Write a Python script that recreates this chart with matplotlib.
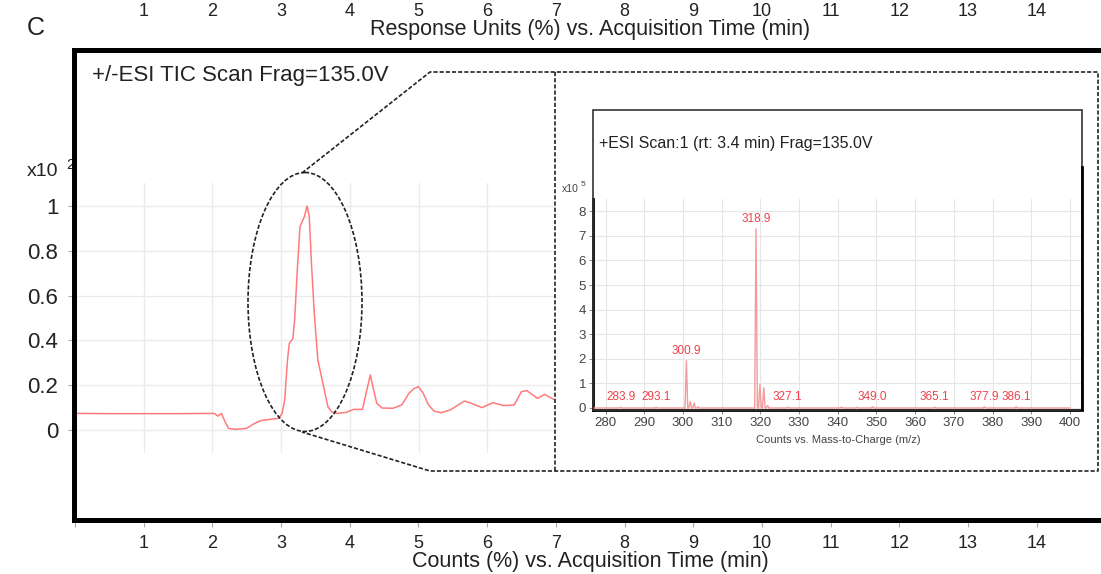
import numpy as np
import matplotlib
matplotlib.use("Agg")
import matplotlib.pyplot as plt
from matplotlib.patches import Ellipse, Rectangle

# ---------------- data ----------------
tic_time = [0.0, 0.5, 1.0, 1.5, 2.028, 2.079, 2.131, 2.183, 2.235, 2.339, 2.495, 2.599,
            2.703, 2.859, 2.963, 3.015, 3.052, 3.093, 3.119, 3.171, 3.197, 3.233, 3.275,
            3.338, 3.379, 3.410, 3.442, 3.483, 3.535, 3.587, 3.639, 3.681, 3.733, 3.821,
            3.951, 4.055, 4.185, 4.237, 4.299, 4.341, 4.393, 4.471, 4.627, 4.757, 4.861,
            4.939, 5.001, 5.069, 5.146, 5.224, 5.329, 5.459, 5.667, 5.744, 5.926, 6.082,
            6.238, 6.394, 6.498, 6.576, 6.732, 6.836, 6.966]
tic_resp = [0.074, 0.073, 0.073, 0.073, 0.074, 0.062, 0.074, 0.037, 0.007, 0.003, 0.007, 0.027,
            0.042, 0.048, 0.052, 0.074, 0.134, 0.313, 0.387, 0.408, 0.491, 0.699, 0.908,
            0.952, 1.000, 0.952, 0.744, 0.521, 0.313, 0.238, 0.164, 0.104, 0.082, 0.074,
            0.079, 0.092, 0.092, 0.164, 0.246, 0.186, 0.119, 0.098, 0.097, 0.112, 0.164,
            0.186, 0.193, 0.164, 0.112, 0.085, 0.077, 0.089, 0.129, 0.122, 0.100, 0.122,
            0.109, 0.112, 0.171, 0.176, 0.141, 0.159, 0.137]

time_ticks = list(range(0, 15))
time_tick_labels = [""] + [str(i) for i in range(1, 15)]
resp_ticks = [0, 0.2, 0.4, 0.6, 0.8, 1.0]
resp_tick_labels = ["0", "0.2", "0.4", "0.6", "0.8", "1"]

mz_peaks = [283.9, 293.1, 300.9, 301.9, 302.9, 303.9, 318.9, 319.9, 320.9, 321.9,
            327.1, 341.0, 344.9, 349.0, 365.1, 377.9, 386.1]
mz_counts = [0.03, 0.03, 1.92, 0.27, 0.20, 0.05, 7.28, 0.95, 0.82, 0.10,
             0.03, 0.04, 0.03, 0.05, 0.03, 0.05, 0.05]
labeled_mz = [283.9, 293.1, 300.9, 318.9, 327.1, 349.0, 365.1, 377.9, 386.1]
mz_ticks = list(range(280, 401, 10))
count_ticks = list(range(0, 9))

# ---------------- layout helpers ----------------
W, H = 1101, 574
fig = plt.figure(figsize=(W / 100, H / 100), dpi=100)
plt.rcParams["font.family"] = ["Liberation Sans", "DejaVu Sans"]


def rect(x0, y0, x1, y1):
    return [x0 / W, 1 - y1 / H, (x1 - x0) / W, (y1 - y0) / H]


PX_MIN = 68.7   # pixels per minute
T0 = 75.0       # pixel of t = 0


def tlim(a, b):
    return ((a - T0) / PX_MIN, (b - T0) / PX_MIN)


TXT = "#222222"
GRAYTXT = "#444444"

# ---------------- TIC chromatogram (drawn first, transparent) ----------------
Y0, PX_RESP = 430.0, 224.0
ax_t = fig.add_axes(rect(75, 183, 555, 453))
ax_t.patch.set_alpha(0)
ax_t.set_xlim(*tlim(75, 555))
ax_t.set_ylim((Y0 - 453) / PX_RESP, (Y0 - 183) / PX_RESP)
for s in ax_t.spines.values():
    s.set_visible(False)
ax_t.set_xticks([1, 2, 3, 4, 5, 6])
ax_t.tick_params(axis="x", length=0, labelbottom=False)
ax_t.set_yticks(resp_ticks, labels=resp_tick_labels)
ax_t.tick_params(axis="y", length=5, width=0.8, color="#aaaaaa", pad=7,
                 labelsize=16, labelcolor=TXT)
ax_t.grid(True, color="#ebebeb", linewidth=1.0)
ax_t.set_axisbelow(True)
ax_t.plot(tic_time, tic_resp, color="#ff7b7b", linewidth=1.1, zorder=3)

# ---------------- outer frame ----------------
ax_o = fig.add_axes(rect(73.5, 49.5, 1125, 519.5), zorder=5)
ax_o.patch.set_alpha(0)
ax_o.set_xlim(*tlim(73.5, 1125))
ax_o.set_ylim(0, 1)
ax_o.set_yticks([])
for s in ["left", "top", "bottom"]:
    ax_o.spines[s].set_linewidth(3.6)
    ax_o.spines[s].set_color("black")
ax_o.spines["right"].set_visible(False)
ax_o.set_xticks(time_ticks, labels=time_tick_labels)
ax_o.tick_params(axis="x", length=5, width=0.8, color="#aaaaaa", pad=6,
                 labelsize=13, labelcolor=TXT)
sec = ax_o.secondary_xaxis("top")
sec.set_xticks(time_ticks, labels=time_tick_labels)
sec.tick_params(axis="x", length=0, pad=21, labelsize=13, labelcolor=TXT)
sec.spines["top"].set_visible(False)

fig.text(590 / W, 1 - 29 / H, "Response Units (%) vs. Acquisition Time (min)",
         ha="center", va="center", fontsize=15.5, color=TXT)
fig.text(590 / W, 1 - 561 / H, "Counts (%) vs. Acquisition Time (min)",
         ha="center", va="center", fontsize=15.5, color=TXT)
fig.text(36 / W, 1 - 28 / H, "C", ha="center", va="center", fontsize=18, color=TXT)

fig.text(27 / W, 1 - 171 / H, "x10", ha="left", va="center", fontsize=14, color=TXT)
fig.text(66 / W, 1 - 165 / H, "2", ha="left", va="center", fontsize=11, color=TXT)
fig.text(92 / W, 1 - 75 / H, "+/-ESI TIC Scan Frag=135.0V", ha="left", va="center",
         fontsize=16, color=TXT)

# ---------------- spectrum inset ----------------
MZ0, PX_MZ = 605.5, 3.87
CY0, PX_CNT = 408.0, 24.6
ax_s = fig.add_axes(rect(593, 199, 1082, 410))
ax_s.set_xlim(280 + (593 - MZ0) / PX_MZ, 280 + (1082 - MZ0) / PX_MZ)
ax_s.set_ylim((CY0 - 410) / PX_CNT, (CY0 - 199) / PX_CNT)
for s in ["top", "right"]:
    ax_s.spines[s].set_visible(False)
for s in ["left", "bottom"]:
    ax_s.spines[s].set_linewidth(2.0)
    ax_s.spines[s].set_color("black")
ax_s.set_xticks(mz_ticks)
ax_s.set_yticks(count_ticks)
ax_s.tick_params(length=3, width=0.7, color="#888888", pad=2, labelsize=9.5,
                 labelcolor=GRAYTXT)
ax_s.grid(True, color="#e6e6e6", linewidth=0.8)
ax_s.set_axisbelow(True)

# profile spectrum built from the peak list
prof_x, prof_y = [277.0], [0.0]
for m, c in sorted(zip(mz_peaks, mz_counts)):
    prof_x += [m - 0.35, m, m + 0.35]
    prof_y += [0.0, c, 0.0]
prof_x.append(400.0)
prof_y.append(0.0)
ax_s.plot(prof_x, prof_y, color="#f59a9a", linewidth=1.0, zorder=3)

for m in labeled_mz:
    c = mz_counts[mz_peaks.index(m)]
    ax_s.annotate(f"{m:.1f}", (m, c), xytext=(0, 3), textcoords="offset points",
                  ha="center", va="bottom", fontsize=8.5, color="#f0404a")

fig.text(838 / W, 1 - 440 / H, "Counts vs. Mass-to-Charge (m/z)", ha="center",
         va="center", fontsize=8, color=GRAYTXT)
fig.text(599 / W, 1 - 143 / H, "+ESI Scan:1 (rt: 3.4 min) Frag=135.0V", ha="left",
         va="center", fontsize=11.5, color=TXT)
fig.text(562 / W, 1 - 189 / H, "x10", ha="left", va="center", fontsize=7.5,
         color=GRAYTXT)
fig.text(581 / W, 1 - 185 / H, "5", ha="left", va="center", fontsize=6,
         color=GRAYTXT)

# ---------------- overlay annotations (pixel coordinates) ----------------
ov = fig.add_axes([0, 0, 1, 1], zorder=10)
ov.set_xlim(0, W)
ov.set_ylim(H, 0)
ov.axis("off")
ov.patch.set_alpha(0)
dash = dict(color="#222222", linewidth=1.2, linestyle=(0, (2.5, 1.2)))
ov.add_patch(Ellipse((305, 302), 114, 259, fill=False, **dash))
ov.plot([302, 430, 1098, 1098, 430, 302], [173, 72, 72, 471, 471, 432], **dash)
ov.plot([555, 555], [72, 471], **dash)
ov.add_patch(Rectangle((593, 110), 1082 - 593, 410 - 110, fill=False,
                       edgecolor="#333333", linewidth=1.2))
ov.plot([1082, 1082], [167, 409], color="black", linewidth=2.0)

fig.savefig("out.png", dpi=100)
